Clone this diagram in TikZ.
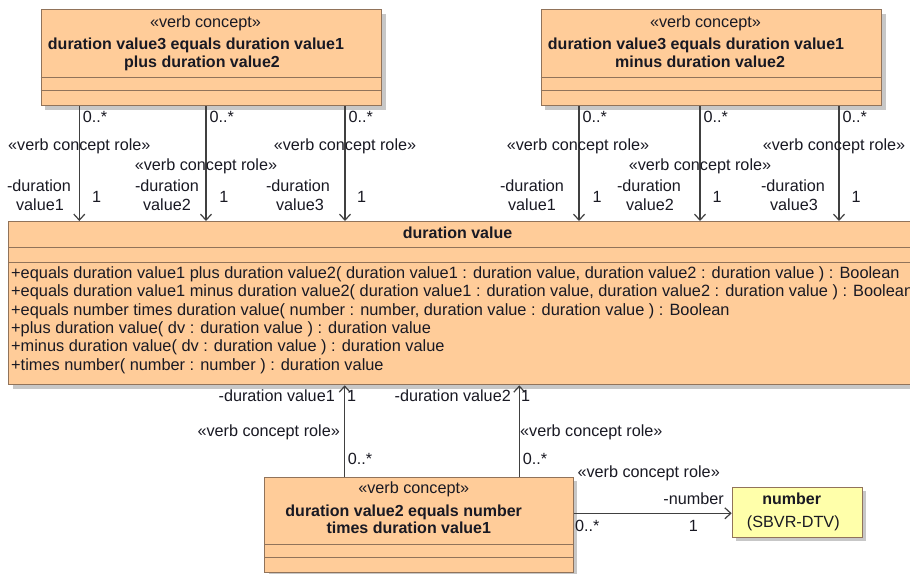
\documentclass[tikz,border=0pt]{standalone}
\usepackage{fontspec}
\setmainfont{Liberation Sans}
\usetikzlibrary{arrows.meta,shadows}
\definecolor{umlfill}{RGB}{255,204,153}
\definecolor{umlline}{RGB}{145,115,90}
\definecolor{numfill}{RGB}{255,255,170}
\definecolor{arrcol}{RGB}{64,64,64}
\definecolor{txtcol}{RGB}{25,25,35}
\begin{document}
\begin{tikzpicture}[x=1pt,y=-1pt,
  umlbox/.style={draw=umlline, fill=umlfill, line width=1.3pt, inner sep=0pt, anchor=north west,
    drop shadow={shadow xshift=4pt, shadow yshift=-4pt, fill=black!22, opacity=1}},
  numbox/.style={umlbox, fill=numfill},
  comp/.style={draw=umlline, line width=1.3pt},
  lbl/.style={font=\fontsize{16.2}{19}\selectfont, inner sep=0pt, text=txtcol, anchor=base},
  lblw/.style={lbl, anchor=base west},
  lble/.style={lbl, anchor=base east},
  opl/.style={lblw, font=\fontsize{16.35}{19}\selectfont},
  ttl/.style={lbl, font=\fontsize{16}{19}\selectfont\bfseries},
  arr/.style={draw=arrcol, line width=1.2pt, -{Straight Barb[length=6pt,width=11pt,line width=1.2pt]}}
]
\clip (0,0) rectangle (910,573);
\fill[white] (0,0) rectangle (910,573);

% ---------- boxes ----------
\node[umlbox, minimum width=340.3pt, minimum height=96pt] (tl) at (40.7,9) {};
\node[umlbox, minimum width=340.3pt, minimum height=96pt] (tr) at (540.7,9) {};
\node[umlbox, minimum width=910pt, minimum height=163pt] (dv) at (8,221) {};
\node[umlbox, minimum width=308.7pt, minimum height=95pt] (bt) at (264,476.7) {};
\node[numbox, minimum width=130pt, minimum height=50pt] (num) at (731.7,486.7) {};

% compartments
\draw[comp] (40.7,77.7) -- (381,77.7) (40.7,90.3) -- (381,90.3);
\draw[comp] (540.7,77.7) -- (881,77.7) (540.7,90.3) -- (881,90.3);
\draw[comp] (8,247.7) -- (918,247.7) (8,262.7) -- (918,262.7);
\draw[comp] (264,544.3) -- (572.7,544.3) (264,557.7) -- (572.7,557.7);

% ---------- box texts ----------
\node[lbl] (tls) at (205.5,27) {«verb concept»};
\node[ttl] (tlt1) at (196,49.5) {duration value3 equals duration value1};
\node[ttl] (tlt2) at (202,67.8) {plus duration value2};

\node[lbl] (trs) at (705.5,27) {«verb concept»};
\node[ttl] (trt1) at (696,49.5) {duration value3 equals duration value1};
\node[ttl] (trt2) at (700,67.8) {minus duration value2};

\node[ttl] (dvt) at (457.5,238) {duration value};
\node[opl] (op1) at (11,278.5) {+equals duration value1 plus duration value2( duration value1 : duration value, duration value2 : duration value ) : Boolean};
\node[opl] (op2) at (11,296.8) {+equals duration value1 minus duration value2( duration value1 : duration value, duration value2 : duration value ) : Boolean};
\node[opl] (op3) at (11,315.1) {+equals number times duration value( number : number, duration value : duration value ) : Boolean};
\node[opl] (op4) at (11,333.4) {+plus duration value( dv : duration value ) : duration value};
\node[opl] (op5) at (11,351.7) {+minus duration value( dv : duration value ) : duration value};
\node[opl] (op6) at (11,370.0) {+times number( number : number ) : duration value};

\node[lbl] (bts) at (413.7,493.5) {«verb concept»};
\node[ttl] (btt1) at (403.7,516) {duration value2 equals number};
\node[ttl] (btt2) at (408.8,533.6) {times duration value1};

\node[ttl] (numt) at (791.7,504.5) {number};
\node[lbl] (nums) at (793.3,527.5) {(SBVR-DTV)};

% ---------- connector positions ----------
\coordinate (a1) at (79.3,0);
\coordinate (a2) at (206,0);
\coordinate (a3) at (345,0);
\coordinate (b1) at (579,0);
\coordinate (b2) at (700,0);
\coordinate (b3) at (839,0);
\coordinate (c1) at (344.7,0);
\coordinate (c2) at (519.3,0);
\coordinate (ny) at (0,513.3);

\draw[arr] (tl.south -| a1) -- (dv.north -| a1);
\draw[arr] (tl.south -| a2) -- (dv.north -| a2);
\draw[arr] (tl.south -| a3) -- (dv.north -| a3);
\draw[arr] (tr.south -| b1) -- (dv.north -| b1);
\draw[arr] (tr.south -| b2) -- (dv.north -| b2);
\draw[arr] (tr.south -| b3) -- (dv.north -| b3);
\draw[arr] (bt.north -| c1) -- (dv.south -| c1);
\draw[arr] (bt.north -| c2) -- (dv.south -| c2);
\draw[arr] (bt.east |- ny) -- (num.west |- ny);

% ---------- connector labels (top left) ----------
\node[lblw] (m1) at (82.7,122) {0..*};
\node[lblw] (m2) at (209.4,122) {0..*};
\node[lblw] (m3) at (348.4,122) {0..*};
\node[lbl] (r1) at (79.3,150) {«verb concept role»};
\node[lbl] (r2) at (206,170) {«verb concept role»};
\node[lbl] (r3) at (345,150) {«verb concept role»};
\node[lbl] (d1a) at (39,191.7) {-duration};
\node[lbl] (d1b) at (40,210) {value1};
\node[lbl] (d2a) at (167,191.7) {-duration};
\node[lbl] (d2b) at (167,210) {value2};
\node[lbl] (d3a) at (298,191.7) {-duration};
\node[lbl] (d3b) at (300,210) {value3};
\node[lbl] (o1) at (96.7,202.3) {1};
\node[lbl] (o2) at (224,202.3) {1};
\node[lbl] (o3) at (361.7,202.3) {1};

% ---------- connector labels (top right) ----------
\node[lblw] (n1) at (582.4,122) {0..*};
\node[lblw] (n2) at (703.4,122) {0..*};
\node[lblw] (n3) at (842.4,122) {0..*};
\node[lbl] (s1) at (578,150) {«verb concept role»};
\node[lbl] (s2) at (700,170) {«verb concept role»};
\node[lbl] (s3) at (834,150) {«verb concept role»};
\node[lbl] (e1a) at (532,191.7) {-duration};
\node[lbl] (e1b) at (532,210) {value1};
\node[lbl] (e2a) at (649,191.7) {-duration};
\node[lbl] (e2b) at (650,210) {value2};
\node[lbl] (e3a) at (793,191.7) {-duration};
\node[lbl] (e3b) at (794,210) {value3};
\node[lbl] (p1) at (597,202.3) {1};
\node[lbl] (p2) at (717,202.3) {1};
\node[lbl] (p3) at (856,202.3) {1};

% ---------- connector labels (bottom) ----------
\node[lble] (f1) at (335,401.7) {-duration value1};
\node[lblw] (g1) at (347,401.7) {1};
\node[lble] (h1) at (340,436) {«verb concept role»};
\node[lblw] (k1) at (347.7,464.5) {0..*};
\node[lble] (f2) at (511,401.7) {-duration value2};
\node[lblw] (g2) at (521,401.7) {1};
\node[lblw] (h2) at (520,436) {«verb concept role»};
\node[lblw] (k2) at (522.7,464.5) {0..*};

% ---------- number connector labels ----------
\node[lblw] (q1) at (577.3,477.5) {«verb concept role»};
\node[lble] (q2) at (724,504) {-number};
\node[lblw] (q3) at (575,531) {0..*};
\node[lbl] (q4) at (693.3,531) {1};
\end{tikzpicture}
\end{document}
